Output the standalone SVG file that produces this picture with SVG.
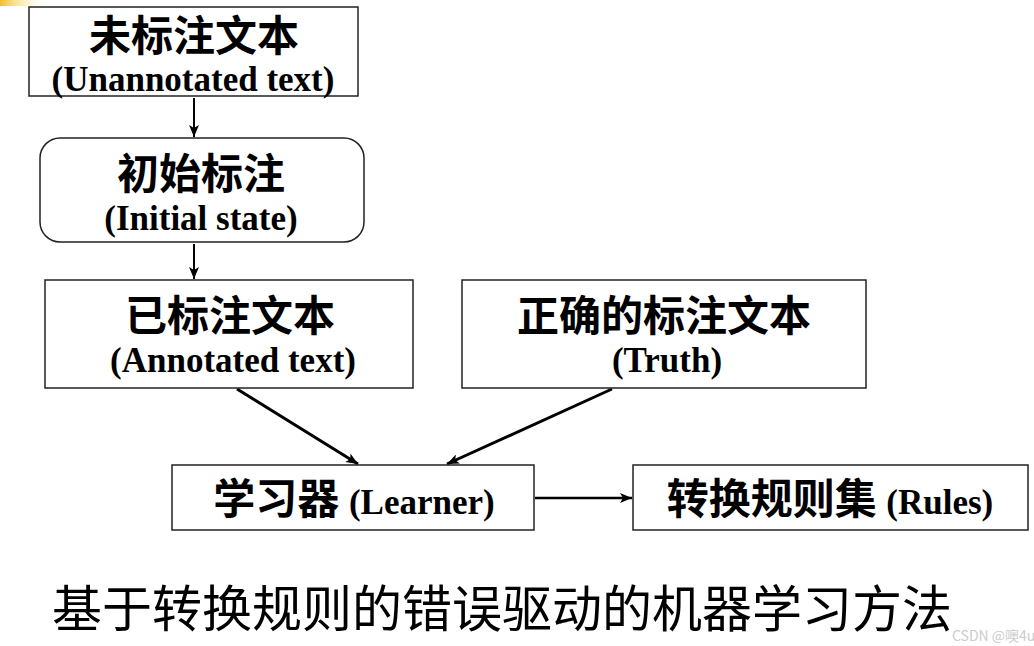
<svg xmlns="http://www.w3.org/2000/svg" width="1034" height="646" viewBox="0 0 1034 646">
<style>
.box{fill:#fff;stroke:#222;stroke-width:1.5}
.zh{font-family:"Noto Sans CJK SC","Noto Sans",sans-serif;font-weight:700;font-size:42px;fill:#000;text-anchor:middle}
.en{font-family:"Liberation Serif","Times New Roman",serif;font-weight:700;font-size:35px;fill:#000;text-anchor:middle}
.enI{font-family:"Liberation Serif","Times New Roman",serif;font-weight:700;font-size:35px;fill:#000}
.ln{stroke:#000;fill:none}
</style>
<defs>
<linearGradient id="bar" x1="0" y1="0" x2="1" y2="0">
<stop offset="0" stop-color="#f0c020"/>
<stop offset="1" stop-color="#fff8d0" stop-opacity="0"/>
</linearGradient>
<marker id="ah" viewBox="0 0 12 10" refX="12" refY="5" markerWidth="12" markerHeight="10" markerUnits="userSpaceOnUse" orient="auto">
<path d="M0,0 L12,5 L0,10 L3,5 Z" fill="#000"/>
</marker>
</defs>
<rect x="0" y="0" width="45" height="6" fill="url(#bar)"/>
<g id="connectors">
<line class="ln" x1="194" y1="98" x2="194" y2="137" stroke-width="2" marker-end="url(#ah)"/>
<line class="ln" x1="194" y1="244" x2="194" y2="279" stroke-width="2" marker-end="url(#ah)"/>
<line class="ln" x1="237" y1="389" x2="358" y2="464" stroke-width="3" marker-end="url(#ah)"/>
<line class="ln" x1="612" y1="389" x2="447" y2="464" stroke-width="3" marker-end="url(#ah)"/>
<line class="ln" x1="535" y1="498" x2="632" y2="498" stroke-width="2.5" marker-end="url(#ah)"/>
</g>
<g id="unannotated">
<rect class="box" x="29" y="7" width="329" height="89"/>
<text class="zh" x="194" y="51" font-size="40">未标注文本</text>
<text class="en" x="193" y="91" font-size="30">(Unannotated text)</text>
</g>
<g id="initial">
<rect class="box" x="40" y="138" width="324" height="104" rx="20"/>
<text class="zh" x="201" y="189">初始标注</text>
<text class="en" x="201" y="230">(Initial state)</text>
</g>
<g id="annotated">
<rect class="box" x="45" y="280" width="368" height="108"/>
<text class="zh" x="230" y="331">已标注文本</text>
<text class="en" x="233" y="372">(Annotated text)</text>
</g>
<g id="truth">
<rect class="box" x="462" y="280" width="404" height="108"/>
<text class="zh" x="664" y="331">正确的标注文本</text>
<text class="en" x="667" y="372">(Truth)</text>
</g>
<g id="learner">
<rect class="box" x="172" y="465" width="362" height="65"/>
<text class="zh" x="354" y="514">学习器 <tspan class="enI">(Learner)</tspan></text>
</g>
<g id="rules">
<rect class="box" x="633" y="465" width="395" height="65"/>
<text class="zh" x="830" y="514">转换规则集 <tspan class="enI">(Rules)</tspan></text>
</g>
<text x="52" y="627" font-family="Noto Sans CJK SC, sans-serif" font-size="50" fill="#000">基于转换规则的错误驱动的机器学习方法</text>
<text x="952" y="641" font-family="Noto Sans CJK SC, Liberation Sans, sans-serif" font-size="14" fill="#ccc">CSDN @噢4u</text>
</svg>
